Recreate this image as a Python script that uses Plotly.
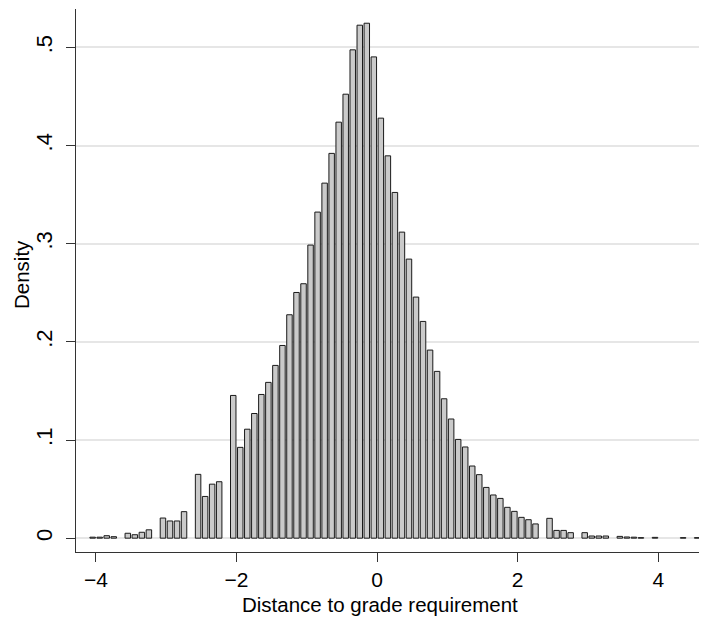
import plotly.graph_objects as go

# Histogram: bin width 0.1, first bin centre
bin_start = -4.047
bin_width = 0.1
density = [
    0.001, 0.001, 0.0025, 0.0015, 0,
    0.005, 0.0035, 0.006, 0.0085, 0,
    0.0205, 0.0175, 0.0175, 0.027, 0,
    0.065, 0.0425, 0.055, 0.0575, 0,
    0.1454, 0.0925, 0.111, 0.127, 0.1464, 0.1587, 0.176, 0.1963, 0.2276, 0.2503,
    0.2592, 0.2986, 0.3322, 0.3617, 0.392, 0.4238, 0.4523, 0.4975, 0.5226, 0.5246,
    0.4903, 0.4279, 0.3895, 0.3522, 0.3118, 0.2843, 0.2456, 0.2208, 0.1916, 0.1699,
    0.142, 0.1214, 0.1006, 0.0929, 0.0735, 0.0647, 0.0517, 0.044, 0.0405, 0.0314,
    0.0273, 0.0212, 0.0188, 0.0145, 0,
    0.0202, 0.0079, 0.0079, 0.0056, 0,
    0.0056, 0.0022, 0.0022, 0.0022, 0,
    0.0018, 0.0012, 0.001, 0.0005, 0,
    0.0008, 0, 0, 0, 0.0005, 0, 0.0005,
]

x_ticks = [-4, -2, 0, 2, 4]
x_ticktext = ["\u22124", "\u22122", "0", "2", "4"]
y_ticks = [0, 0.1, 0.2, 0.3, 0.4, 0.5]
y_ticktext = ["0", ".1", ".2", ".3", ".4", ".5"]

xs = [bin_start + i * bin_width for i, d in enumerate(density) if d > 0]
ys = [d for d in density if d > 0]

FONT = "Liberation Sans, Arial, sans-serif"

fig = go.Figure(go.Bar(
    x=xs, y=ys,
    marker=dict(color="#cacaca", line=dict(color="#1a1a1a", width=1)),
))

# page body has an 8px margin; figure is sized so the plot lands where the reference has it
fig.update_layout(
    width=699, height=611,
    margin=dict(l=68, r=0, t=1, b=67),
    paper_bgcolor="white", plot_bgcolor="white",
    bargap=0.22,
    showlegend=False,
    font=dict(family=FONT, color="black"),
    xaxis=dict(
        range=[-4.284, 4.693],
        tickvals=x_ticks, ticktext=x_ticktext,
        ticks="outside", ticklen=9, tickwidth=1.3, tickcolor="#333333",
        showline=True, linecolor="#333333", linewidth=1.3,
        showgrid=False, zeroline=False,
        tickfont=dict(size=21, family=FONT),
    ),
    yaxis=dict(
        range=[-0.0141, 0.5391],
        tickvals=y_ticks, ticktext=y_ticktext,
        tickangle=-90,
        ticks="outside", ticklen=9, tickwidth=1.3, tickcolor="#333333",
        showline=True, linecolor="#333333", linewidth=1.3,
        showgrid=True, gridcolor="#e6e6e6", gridwidth=1.5,
        zeroline=False,
        tickfont=dict(size=22, family=FONT),
        ticklabelstandoff=5,
    ),
    annotations=[
        dict(text="Distance to grade requirement", xref="paper", yref="paper",
             x=(380 - 76) / 631, y=-(604 - 552) / 543, xanchor="center", yanchor="middle",
             showarrow=False, font=dict(size=20.5, family=FONT)),
        dict(text="Density", xref="paper", yref="paper",
             x=-(76 - 21) / 631, y=(552 - 274) / 543, xanchor="center", yanchor="middle",
             textangle=-90, showarrow=False, font=dict(size=20.5, family=FONT)),
    ],
)

fig.write_html("out.html")
